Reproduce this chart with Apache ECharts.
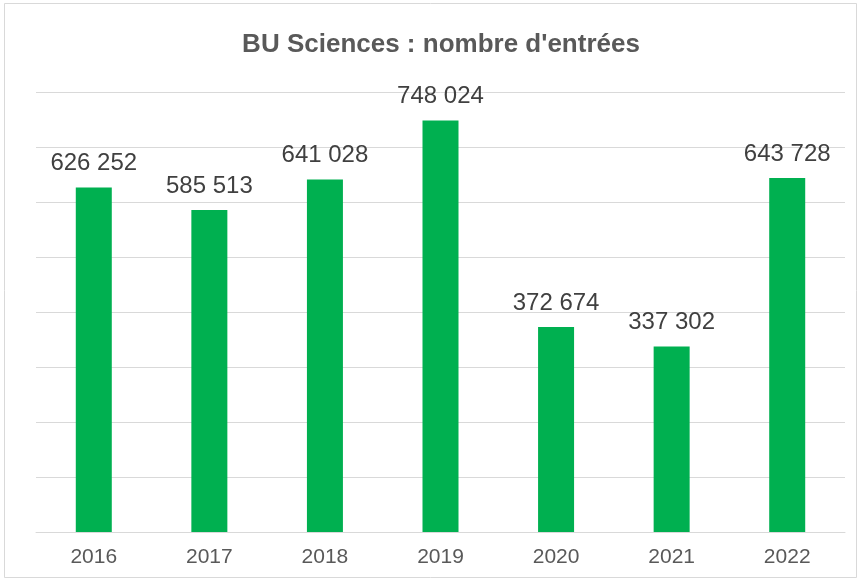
<!DOCTYPE html>
<html>
<head>
<meta charset="utf-8">
<script src="https://cdn.jsdelivr.net/npm/echarts@6/dist/echarts.min.js"></script>
<style>
  html, body { margin: 0; padding: 0; background: #fff; }
  #chart { width: 861px; height: 581px; }
</style>
</head>
<body>
<div id="chart"></div>
<script>
// Annual visitor entries for the science library
const years = ['2016', '2017', '2018', '2019', '2020', '2021', '2022'];
const entries = [626252, 585513, 641028, 748024, 372674, 337302, 643728];

const fmt = v => String(v).replace(/\B(?=(\d{3})+(?!\d))/g, ' ');
const font = 'Liberation Sans, Arial, sans-serif';

const chart = echarts.init(document.getElementById('chart'), null, { renderer: 'canvas' });
chart.setOption({
  backgroundColor: '#ffffff',
  animation: false,
  textStyle: { fontFamily: font },
  title: {
    text: "BU Sciences : nombre d'entrées",
    left: 436, top: 27, textAlign: 'center',
    textStyle: { fontSize: 26, fontWeight: 'bold', color: '#595959', fontFamily: font }
  },
  graphic: [{
    type: 'rect', silent: true, z: -1,
    shape: { x: 4.5, y: 3.5, width: 852, height: 574 },
    style: { fill: 'none', stroke: '#d9d9d9', lineWidth: 1 }
  }],
  grid: { left: 36, right: 16, top: 92, bottom: 49, containLabel: false },
  xAxis: {
    type: 'category',
    data: years,
    axisTick: { show: false },
    axisLine: { lineStyle: { color: '#d9d9d9', width: 1 } },
    axisLabel: { color: '#595959', fontSize: 21, margin: 15 }
  },
  yAxis: {
    type: 'value',
    min: 0, max: 800000, interval: 100000,
    axisLabel: { show: false },
    axisLine: { show: false },
    axisTick: { show: false },
    splitLine: { lineStyle: { color: '#d9d9d9', width: 1 } }
  },
  series: [{
    type: 'bar',
    data: entries,
    barWidth: 36,
    itemStyle: { color: '#00b050' },
    label: {
      show: true, position: 'top', distance: 12,
      color: '#404040', fontSize: 24,
      formatter: p => fmt(p.value)
    }
  }]
});
</script>
</body>
</html>
